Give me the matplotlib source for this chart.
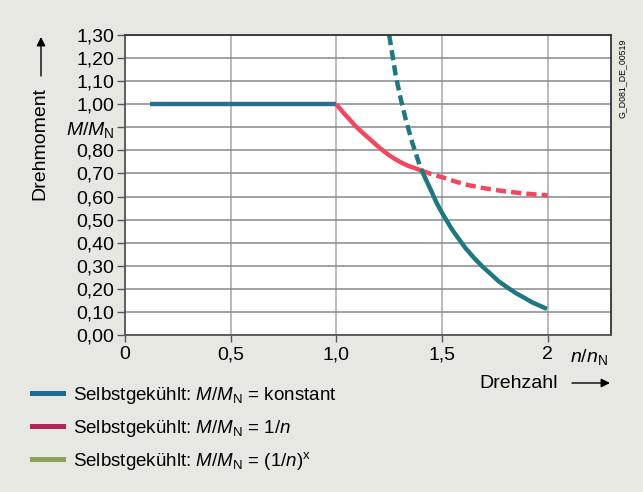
import numpy as np
import matplotlib.pyplot as plt
from matplotlib.lines import Line2D

plt.rcParams.update({
    'font.family': ['Liberation Sans', 'DejaVu Sans'],
    'font.size': 14,
    'mathtext.fontset': 'custom',
    'mathtext.rm': 'Liberation Sans',
    'mathtext.it': 'Liberation Sans:italic',
})

# Werte
const_x = [0.12, 1.0]
const_y = [1.0, 1.0]

inv_x = [1.0, 1.03, 1.06, 1.09, 1.125, 1.16, 1.19, 1.22, 1.25, 1.28, 1.31, 1.34, 1.375, 1.405]
inv_y = [1.0, 0.967, 0.937, 0.906, 0.876, 0.848, 0.823, 0.800, 0.779, 0.761, 0.746, 0.733, 0.722, 0.712]

inv_dash_x = [1.405, 1.45, 1.5, 1.56, 1.627, 1.70, 1.786, 1.88, 2.0]
inv_dash_y = [0.712, 0.697, 0.684, 0.666, 0.649, 0.636, 0.624, 0.614, 0.605]

pow_dash_x = [1.25, 1.266, 1.281, 1.305, 1.328, 1.359, 1.39, 1.405]
pow_dash_y = [1.30, 1.212, 1.125, 1.023, 0.936, 0.835, 0.748, 0.712]

pow_x = [1.405, 1.43, 1.453, 1.475, 1.5, 1.547, 1.61, 1.65, 1.689, 1.73, 1.768, 1.81, 1.847, 1.89, 1.926, 1.96, 1.997]
pow_y = [0.712, 0.662, 0.617, 0.572, 0.530, 0.458, 0.378, 0.336, 0.299, 0.265, 0.233, 0.206, 0.183, 0.161, 0.142, 0.128, 0.113]

y_ticks = [0.0, 0.1, 0.2, 0.3, 0.4, 0.5, 0.6, 0.7, 0.8, 0.9, 1.0, 1.1, 1.2, 1.3]
y_labels = ['0,00', '0,10', '0,20', '0,30', '0,40', '0,50', '0,60', '0,70',
            '0,80', r'$M/M_{\mathrm{N}}$', '1,00', '1,10', '1,20', '1,30']
x_ticks = [0, 0.5, 1.0, 1.5, 2.0]
x_labels = ['0', '0,5', '1,0', '1,5', '2']

legend_labels = [
    r'Selbstgekühlt: $M/M_{\mathrm{N}}$ = konstant',
    r'Selbstgekühlt: $M/M_{\mathrm{N}}$ = 1/$n$',
    r'Selbstgekühlt: $M/M_{\mathrm{N}}$ = (1/$n$)$^{\mathrm{x}}$',
]
legend_colors = ['#1f6a8e', '#b3245f', '#8ba35a']

W, H = 643, 492
bg = '#e8e8e3'
fig = plt.figure(figsize=(W / 100, H / 100), dpi=100, facecolor=bg)
ax = fig.add_axes([125 / W, 1 - 335 / H, 486 / W, 300 / H])

dash = (0, (2.3, 1.15))
ax.plot(const_x, const_y, color='#2a6f8f', lw=3.2, solid_capstyle='butt')
ax.plot(inv_x, inv_y, color='#f4475f', lw=3.2, solid_capstyle='butt')
ax.plot(inv_dash_x, inv_dash_y, color='#f4475f', lw=3.2, ls=dash, dash_capstyle='butt')
ax.plot(pow_dash_x, pow_dash_y, color='#1f7880', lw=3.2, ls=dash, dash_capstyle='butt')
ax.plot(pow_x, pow_y, color='#1f7880', lw=3.2, solid_capstyle='butt')

ax.set_xlim(0, 2.3)
ax.set_ylim(0, 1.3)
ax.set_yticks(y_ticks)
ax.set_yticklabels(y_labels)
ax.set_xticks(x_ticks)
ax.set_xticklabels(x_labels)
ax.grid(True, axis='y', color='#868a8e', lw=1.1)
ax.grid(True, axis='x', color='#a4a8ab', lw=1.1)
ax.set_axisbelow(True)
ax.tick_params(axis='y', length=6, width=1, color='#555555', pad=1.5, labelsize=14)
ax.tick_params(axis='x', length=5, width=1, color='#555555', pad=3, labelsize=14)
for side in ['top', 'right']:
    ax.spines[side].set_color('#333333')
    ax.spines[side].set_linewidth(1.3)
for side in ['left', 'bottom']:
    ax.spines[side].set_color('#555555')
    ax.spines[side].set_linewidth(1.3)

# Achsenbeschriftungen mit Pfeilen
arrow = dict(arrowstyle='-|>', lw=1, color='black', mutation_scale=13, shrinkA=0, shrinkB=0)
fig.text(40 / W, 1 - 143 / H, 'Drehmoment', rotation=90, ha='center', va='center', fontsize=14)
ax.annotate('', xy=(41 / W, 1 - 37 / H), xytext=(41 / W, 1 - 76 / H),
            xycoords='figure fraction', textcoords='figure fraction', arrowprops=arrow)
fig.text(589 / W, 1 - 357 / H, r'$n/n_{\mathrm{N}}$', ha='center', va='center', fontsize=14)
fig.text(519 / W, 1 - 383 / H, 'Drehzahl', ha='center', va='center', fontsize=14)
ax.annotate('', xy=(610 / W, 1 - 383 / H), xytext=(572 / W, 1 - 383 / H),
            xycoords='figure fraction', textcoords='figure fraction', arrowprops=arrow)
fig.text(622 / W, 1 - 78 / H, 'G_D081_DE_00519', rotation=90, ha='center', va='center', fontsize=6.3)

# Legende
for i, (lab, col) in enumerate(zip(legend_labels, legend_colors)):
    yy = 393 + i * 33
    fig.add_artist(Line2D([32 / W, 63 / W], [1 - yy / H, 1 - yy / H], color=col, lw=3.6))
    fig.text(73 / W, 1 - (yy + 7) / H, lab, ha='left', va='baseline', fontsize=13.5)

fig.savefig('out.png', dpi=100, facecolor=bg)
